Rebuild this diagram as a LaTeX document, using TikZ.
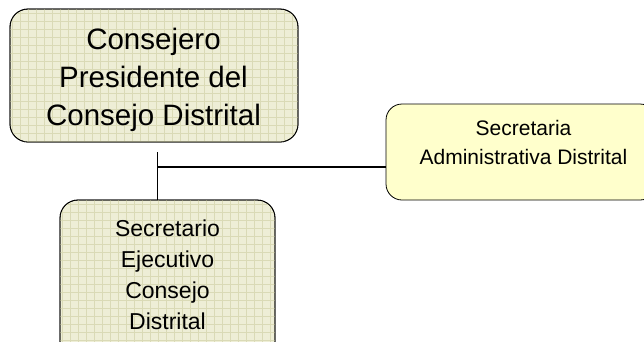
\documentclass[tikz,border=0pt]{standalone}
\usepackage{fontspec}
\setmainfont{Liberation Sans}
\definecolor{khaki}{RGB}{238,238,214}
\definecolor{gridc}{RGB}{218,218,182}
\definecolor{paley}{RGB}{255,255,204}
\begin{document}
\begin{tikzpicture}[x=1pt,y=-1pt,
  gridbox/.style={draw=black, line width=0.8pt, rounded corners=18pt, fill=khaki, inner sep=0pt},
  plainbox/.style={draw=black, line width=0.8pt, rounded corners=16pt, fill=paley, inner sep=0pt},
  lbl/.style={align=center, inner sep=0pt},
  gridline/.style={gridc, line width=0.6pt},
  link/.style={draw=black, line width=0.6pt},
  linkthick/.style={draw=black, line width=1.6pt}]
\useasboundingbox (0,0) rectangle (644,341);
% top box
\node[gridbox, minimum width=288pt, minimum height=133pt] (top) at (154,75.5) {};
\begin{scope}
  \clip[rounded corners=18pt] (10,9) rectangle (298,142);
  \foreach \gx in {12,20,...,300} {\draw[gridline] (\gx,9) -- (\gx,142);}
  \foreach \gy in {13,21,...,142} {\draw[gridline] (10,\gy) -- (298,\gy);}
\end{scope}
\draw[black, line width=0.8pt, rounded corners=18pt] (10,9) rectangle (298,142);
\node[lbl, font=\fontsize{29.5}{38}\selectfont] (toptxt) at (153.5,80) {Consejero\\Presidente del\\Consejo Distrital};
% right box
\node[plainbox, minimum width=270pt, minimum height=96pt] (sec) at (521,152) {};
\node[lbl, font=\fontsize{21}{29.3}\selectfont] (sectxt) at (523.5,142.7) {Secretaria\\Administrativa Distrital};
% bottom box
\node[gridbox, minimum width=215pt, minimum height=160pt] (bot) at (167.5,280) {};
\begin{scope}
  \clip[rounded corners=18pt] (60,200) rectangle (275,360);
  \foreach \gx in {62,70,...,275} {\draw[gridline] (\gx,200) -- (\gx,360);}
  \foreach \gy in {204,212,...,360} {\draw[gridline] (60,\gy) -- (275,\gy);}
\end{scope}
\draw[black, line width=0.8pt, rounded corners=18pt] (60,200) rectangle (275,360);
\node[lbl, font=\fontsize{23}{31}\selectfont] (bottxt) at (167.5,275) {Secretario\\Ejecutivo\\Consejo\\Distrital};
% connectors
\coordinate (j) at (157,167);
\draw[link] ([yshift=-10pt]top.south -| j) -- (bot.north -| j);
\draw[linkthick] (j) -- (sec.west |- j);
\end{tikzpicture}
\end{document}
